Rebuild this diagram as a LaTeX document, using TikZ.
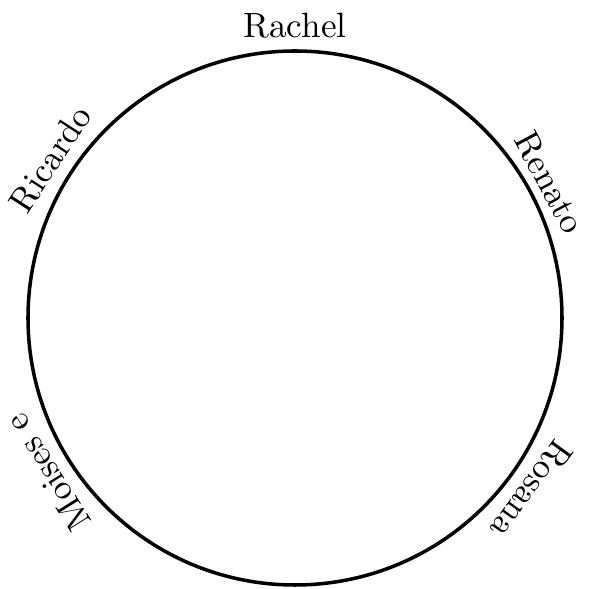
\documentclass[tikz,border=0pt]{standalone}
\usepackage{tikz}

\begin{document}
\begin{tikzpicture}[scale=1.0, nome/.style={anchor=base, inner sep=0pt}]
\useasboundingbox (-2.95,-2.71) rectangle (2.94,3.18);
\draw[line width=1pt] (0,0) circle (2.67);
\node[nome] (rachel) at (90:2.80) {Rachel};
\node[nome,rotate=57] (ricardo) at (147:2.80) {Ricardo};
\node[nome,rotate=-62] (renato) at (28:2.77) {Renato};
\node[nome,rotate=122] (moises) at (212:2.80) {Moises e};
\node[nome,rotate=-126] (rosana) at (-36:2.81) {Rosana};
\end{tikzpicture}
\end{document}
